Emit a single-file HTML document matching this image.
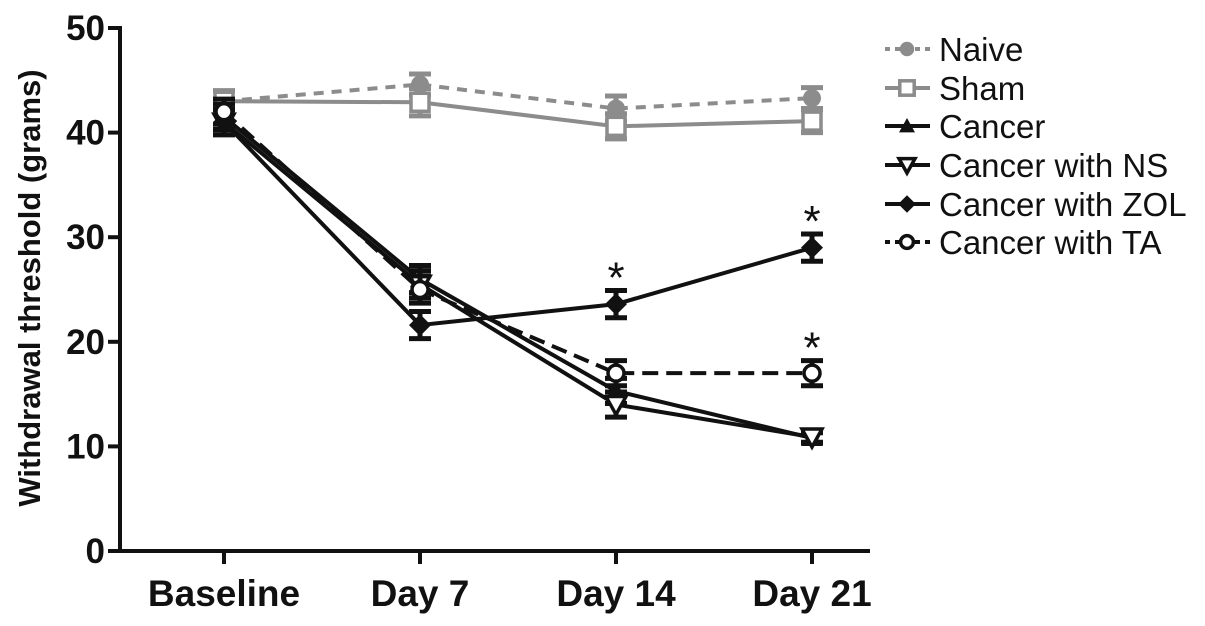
<!DOCTYPE html>
<html><head><meta charset="utf-8"><style>
html,body{margin:0;padding:0;background:#fff;}
svg{display:block;font-family:"Liberation Sans",Arial,sans-serif;}
</style></head><body>
<svg id="chart" width="1205" height="626" viewBox="0 0 1205 626" xmlns="http://www.w3.org/2000/svg">
<g id="axes"></g><g id="series"></g><g id="legend"></g>
</svg>
<script>
const categories = ["Baseline","Day 7","Day 14","Day 21"];
const yTicks = [0,10,20,30,40,50];
const seriesNames = ["Naive","Sham","Cancer","Cancer with NS","Cancer with ZOL","Cancer with TA"];
const naive = [43.0,44.6,42.3,43.3];
const sham = [43.0,42.9,40.6,41.1];
const cancer = [41.5,26.0,15.3,10.8];
const cancerNS = [41.0,25.5,14.0,10.9];
const cancerZOL = [41.0,21.6,23.6,29.0];
const cancerTA = [42.0,25.0,17.0,17.0];
const naiveErr = [1.0,1.0,1.2,1.0];
const shamErr = [1.0,1.3,1.2,1.1];
const cancerErr = [1.2,1.3,1.2,0.5];
const cancerNSErr = [1.2,1.3,1.2,0.5];
const cancerZOLErr = [1.2,1.3,1.3,1.3];
const cancerTAErr = [1.2,1.3,1.2,1.2];
const starIdx = [[],[],[],[],[2,3],[3]];

const NS="http://www.w3.org/2000/svg";
const xPos=[224,420,617,812];
function xs(i){return xPos[0]+(xPos[3]-xPos[0])*i/(categories.length-1);}
function ys(v){return 551-(551-28)*v/50;}
function el(tag,attrs,parent){const e=document.createElementNS(NS,tag);for(const k in attrs)e.setAttribute(k,attrs[k]);parent.appendChild(e);return e;}
const axes=document.getElementById('axes'),sg=document.getElementById('series'),lg=document.getElementById('legend');
let a=el('line',{x1:120,y1:26,x2:120,y2:553,stroke:'#111','stroke-width':4},axes);


a=el('line',{x1:118,y1:551,x2:870,y2:551,stroke:'#111','stroke-width':4},axes);


yTicks.forEach(v=>{
 const t=el('line',{x1:108,y1:ys(v),x2:120,y2:ys(v),stroke:'#111','stroke-width':4},axes);
 
 
 const l=el('text',{x:105,y:ys(v)+12,'text-anchor':'end','font-size':35,'font-weight':'bold',fill:'#111'},axes);
 l.textContent=v;
 
 
});
categories.forEach((c,i)=>{
 const t=el('line',{x1:xs(i),y1:551,x2:xs(i),y2:564,stroke:'#111','stroke-width':4},axes);
 
 
 const l=el('text',{x:xs(i),y:606,'text-anchor':'middle','font-size':37,'font-weight':'bold',fill:'#111'},axes);
 l.textContent=c;
 
 
});
const yt=el('text',{x:0,y:0,transform:'translate(40,288) rotate(-90)','text-anchor':'middle','font-size':31,'font-weight':'bold',fill:'#111'},axes);
yt.textContent='Withdrawal threshold (grams)';



const grey='#8c8c8c',blk='#111';
const defs=[
 {vals:naive,err:naiveErr,col:grey,dash:'10,8',marker:'circle'},
 {vals:sham,err:shamErr,col:grey,dash:'',marker:'square'},
 {vals:cancer,err:cancerErr,col:blk,dash:'',marker:'tri-up'},
 {vals:cancerNS,err:cancerNSErr,col:blk,dash:'',marker:'tri-down'},
 {vals:cancerZOL,err:cancerZOLErr,col:blk,dash:'',marker:'diamond'},
 {vals:cancerTA,err:cancerTAErr,col:blk,dash:'16,8',marker:'ocircle'}
];
function marker(type,x,y,col,parent,s){
 s=s||1;let m;
 if(type==='circle')m=el('circle',{cx:x,cy:y,r:9*s,fill:col},parent);
 else if(type==='square')m=el('rect',{x:x-9*s,y:y-9*s,width:18*s,height:18*s,fill:'#fff',stroke:col,'stroke-width':3.5},parent);
 else if(type==='tri-up')m=el('polygon',{points:`${x},${y-10*s} ${x-10*s},${y+8*s} ${x+10*s},${y+8*s}`,fill:col},parent);
 else if(type==='tri-down')m=el('polygon',{points:`${x},${y+10*s} ${x-10*s},${y-8*s} ${x+10*s},${y-8*s}`,fill:'#fff',stroke:col,'stroke-width':3.5},parent);
 else if(type==='diamond')m=el('polygon',{points:`${x},${y-11*s} ${x+11*s},${y} ${x},${y+11*s} ${x-11*s},${y}`,fill:col},parent);
 else m=el('circle',{cx:x,cy:y,r:8*s,fill:'#fff',stroke:col,'stroke-width':3.5},parent);
 return m;
}
defs.forEach((d,si)=>{
 const g=el('g',{},sg);
 
 
 const pts=d.vals.map((v,i)=>xs(i)+','+ys(v)).join(' ');
 const pl=el('polyline',{points:pts,fill:'none',stroke:d.col,'stroke-width':4,'stroke-dasharray':d.dash},g);
 
 
 d.vals.forEach((v,i)=>{
  const x=xs(i),e=d.err[i];
  const eb=el('path',{d:`M${x},${ys(v+e)}V${ys(v-e)}M${x-11},${ys(v+e)}H${x+11}M${x-11},${ys(v-e)}H${x+11}`,stroke:d.col,'stroke-width':5,fill:'none'},g);
  
  
  const m=marker(d.marker,x,ys(v),d.col,g);
  
  
 });
 starIdx[si].forEach(i=>{
  const s=el('text',{x:xs(i),y:ys(d.vals[i]+d.err[i])+2,'text-anchor':'middle','font-size':44,fill:blk},g);
  s.textContent='*';
  
  
 });
});
const legY=[49,88,126,165,204,242];
defs.forEach((d,si)=>{
 const g=el('g',{},lg);
 
 
 const y=legY[si];
 el('line',{x1:885,y1:y,x2:930,y2:y,stroke:d.col,'stroke-width':4,'stroke-dasharray':d.dash?'5,5':''},g);
 marker(d.marker,907,y,d.col,g,0.8);
 const t=el('text',{x:939,y:y+12,'font-size':33,fill:blk},g);
 t.textContent=seriesNames[si];
 
 
});
</script>
</body></html>
